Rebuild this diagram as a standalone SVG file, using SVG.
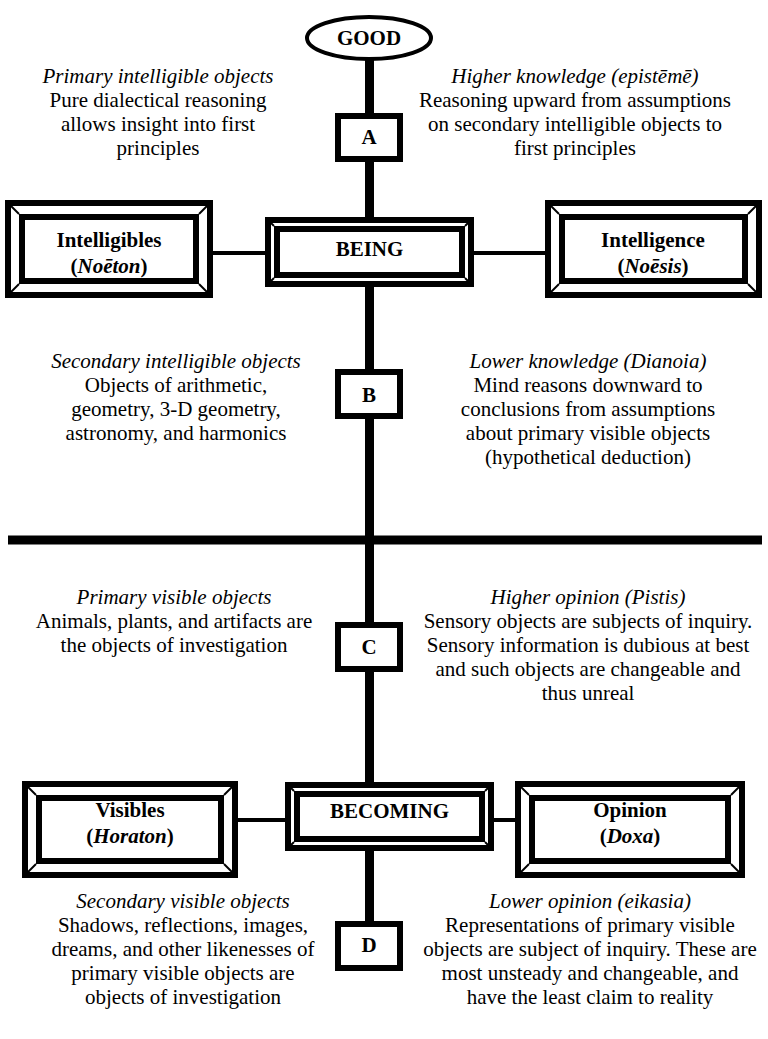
<svg xmlns="http://www.w3.org/2000/svg" width="768" height="1039" viewBox="0 0 768 1039">
<style>
text{font-family:"Liberation Serif","Times New Roman",serif;font-size:21px;fill:#000;text-anchor:middle}
.b{font-weight:bold}
.i{font-style:italic}
.thick{fill:none;stroke:#000;stroke-width:6}
.frame{fill:#fff;stroke:#000;stroke-width:6}
.diag{stroke:#000;stroke-width:2}
.conn{stroke:#000;fill:none}
</style>
<rect width="768" height="1039" fill="#fff"/>
<g id="connectors">
<line class="conn" x1="369.5" y1="58" x2="369.5" y2="925" stroke-width="9"/>
<line class="conn" x1="8" y1="540" x2="762" y2="540" stroke-width="9"/>
<line class="conn" x1="212" y1="253" x2="266" y2="253" stroke-width="4"/>
<line class="conn" x1="473" y1="253" x2="546" y2="253" stroke-width="4"/>
<line class="conn" x1="237" y1="820" x2="286" y2="820" stroke-width="4"/>
<line class="conn" x1="493" y1="820" x2="516" y2="820" stroke-width="4"/>
</g>
<g id="good">
<ellipse cx="369" cy="38" rx="62" ry="21" fill="#fff" stroke="#000" stroke-width="4"/>
<text x="369" y="45" class="b">GOOD</text>
</g>
<g id="boxA"><rect x="338" y="116" width="62" height="43" class="frame"/><text x="369" y="144" class="b">A</text></g>
<g id="boxB"><rect x="338" y="372" width="62" height="44" class="frame"/><text x="369" y="402" class="b">B</text></g>
<g id="boxC"><rect x="338" y="625" width="62" height="44" class="frame"/><text x="369" y="654" class="b">C</text></g>
<g id="boxD"><rect x="338" y="924" width="62" height="44" class="frame"/><text x="369" y="952" class="b">D</text></g>

<g id="intelligibles">
<rect x="8" y="203" width="202" height="92" class="frame"/>
<rect x="22" y="217" width="174" height="64" class="thick"/>
<line class="diag" x1="11" y1="206" x2="19" y2="214"/><line class="diag" x1="207" y1="206" x2="199" y2="214"/>
<line class="diag" x1="11" y1="292" x2="19" y2="284"/><line class="diag" x1="207" y1="292" x2="199" y2="284"/>
<text x="109" y="247" class="b">Intelligibles</text>
<text x="109" y="273" class="b">(<tspan class="i">Noēton</tspan>)</text>
</g>
<g id="being">
<rect x="268" y="220" width="203" height="64" class="frame"/>
<rect x="277" y="229" width="185" height="46" class="thick"/>
<line class="diag" x1="271" y1="223" x2="274" y2="226"/><line class="diag" x1="468" y1="223" x2="465" y2="226"/>
<line class="diag" x1="271" y1="281" x2="274" y2="278"/><line class="diag" x1="468" y1="281" x2="465" y2="278"/>
<text x="369.5" y="256" class="b">BEING</text>
</g>
<g id="intelligence">
<rect x="548" y="203" width="211" height="92" class="frame"/>
<rect x="562" y="217" width="183" height="64" class="thick"/>
<line class="diag" x1="551" y1="206" x2="559" y2="214"/><line class="diag" x1="756" y1="206" x2="748" y2="214"/>
<line class="diag" x1="551" y1="292" x2="559" y2="284"/><line class="diag" x1="756" y1="292" x2="748" y2="284"/>
<text x="653" y="247" class="b">Intelligence</text>
<text x="653" y="273" class="b">(<tspan class="i">Noēsis</tspan>)</text>
</g>

<g id="visibles">
<rect x="25" y="784" width="210" height="91" class="frame"/>
<rect x="39" y="798" width="182" height="63" class="thick"/>
<line class="diag" x1="28" y1="787" x2="36" y2="795"/><line class="diag" x1="232" y1="787" x2="224" y2="795"/>
<line class="diag" x1="28" y1="872" x2="36" y2="864"/><line class="diag" x1="232" y1="872" x2="224" y2="864"/>
<text x="130" y="817" class="b">Visibles</text>
<text x="130" y="843" class="b">(<tspan class="i">Horaton</tspan>)</text>
</g>
<g id="becoming">
<rect x="288" y="785" width="203" height="63" class="frame"/>
<rect x="297" y="794" width="185" height="45" class="thick"/>
<line class="diag" x1="291" y1="788" x2="294" y2="791"/><line class="diag" x1="488" y1="788" x2="485" y2="791"/>
<line class="diag" x1="291" y1="845" x2="294" y2="842"/><line class="diag" x1="488" y1="845" x2="485" y2="842"/>
<text x="389.5" y="818" class="b">BECOMING</text>
</g>
<g id="opinion">
<rect x="518" y="784" width="224" height="91" class="frame"/>
<rect x="532" y="798" width="196" height="63" class="thick"/>
<line class="diag" x1="521" y1="787" x2="529" y2="795"/><line class="diag" x1="739" y1="787" x2="731" y2="795"/>
<line class="diag" x1="521" y1="872" x2="529" y2="864"/><line class="diag" x1="739" y1="872" x2="731" y2="864"/>
<text x="630" y="817" class="b">Opinion</text>
<text x="630" y="843" class="b">(<tspan class="i">Doxa</tspan>)</text>
</g>

<g id="text-primary-intelligible">
<text x="158" y="83" class="i">Primary intelligible objects</text>
<text x="158" y="107">Pure dialectical reasoning</text>
<text x="158" y="131">allows insight into first</text>
<text x="158" y="155">principles</text>
</g>
<g id="text-higher-knowledge">
<text x="575" y="83" class="i">Higher knowledge (epistēmē)</text>
<text x="575" y="107">Reasoning upward from assumptions</text>
<text x="575" y="131">on secondary intelligible objects to</text>
<text x="575" y="155">first principles</text>
</g>
<g id="text-secondary-intelligible">
<text x="176" y="368" class="i">Secondary intelligible objects</text>
<text x="176" y="392">Objects of arithmetic,</text>
<text x="176" y="416">geometry, 3-D geometry,</text>
<text x="176" y="440">astronomy, and harmonics</text>
</g>
<g id="text-lower-knowledge">
<text x="588" y="368" class="i">Lower knowledge (Dianoia)</text>
<text x="588" y="392">Mind reasons downward to</text>
<text x="588" y="416">conclusions from assumptions</text>
<text x="588" y="440">about primary visible objects</text>
<text x="588" y="464">(hypothetical deduction)</text>
</g>
<g id="text-primary-visible">
<text x="174" y="604" class="i">Primary visible objects</text>
<text x="174" y="628">Animals, plants, and artifacts are</text>
<text x="174" y="652">the objects of investigation</text>
</g>
<g id="text-higher-opinion">
<text x="588" y="604" class="i">Higher opinion (Pistis)</text>
<text x="588" y="628">Sensory objects are subjects of inquiry.</text>
<text x="588" y="652">Sensory information is dubious at best</text>
<text x="588" y="676">and such objects are changeable and</text>
<text x="588" y="700">thus unreal</text>
</g>
<g id="text-secondary-visible">
<text x="183" y="908" class="i">Secondary visible objects</text>
<text x="183" y="932">Shadows, reflections, images,</text>
<text x="183" y="956">dreams, and other likenesses of</text>
<text x="183" y="980">primary visible objects are</text>
<text x="183" y="1004">objects of investigation</text>
</g>
<g id="text-lower-opinion">
<text x="590" y="908" class="i">Lower opinion (eikasia)</text>
<text x="590" y="932">Representations of primary visible</text>
<text x="590" y="956">objects are subject of inquiry. These are</text>
<text x="590" y="980">most unsteady and changeable, and</text>
<text x="590" y="1004">have the least claim to reality</text>
</g>
</svg>
